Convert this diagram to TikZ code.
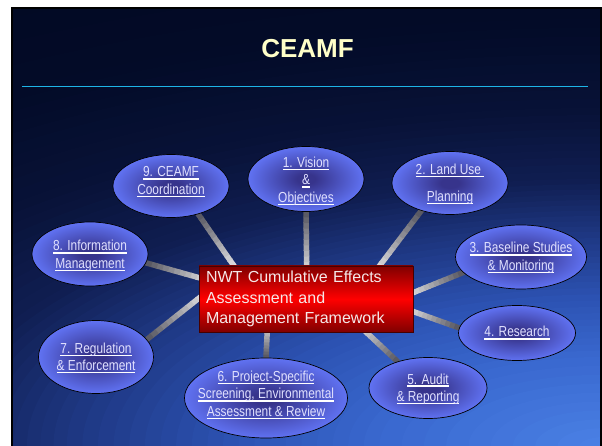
\documentclass[tikz,border=0pt]{standalone}
\usepackage{fontspec}
\setmainfont{Liberation Sans}
\newfontfamily\narrowsans[FakeStretch=0.82]{Liberation Sans}
\usetikzlibrary{shapes.geometric,calc}

% palette
\definecolor{bgA}{RGB}{75,130,230}
\definecolor{bgB}{RGB}{58,105,208}
\definecolor{bgC}{RGB}{44,82,178}
\definecolor{bgD}{RGB}{30,55,130}
\definecolor{bgE}{RGB}{16,30,82}
\definecolor{bgF}{RGB}{8,18,55}
\definecolor{bgG}{RGB}{3,11,40}
\definecolor{bgH}{RGB}{2,9,35}
\definecolor{titlecol}{RGB}{255,255,200}
\definecolor{rulecol}{RGB}{30,180,230}
\definecolor{ellin}{RGB}{55,52,140}
\definecolor{ellout}{RGB}{96,114,242}
\definecolor{bubtext}{RGB}{225,225,255}
\definecolor{boxdark}{RGB}{128,0,0}
\definecolor{boxedge}{RGB}{70,0,0}
\definecolor{boxtext}{RGB}{245,232,232}
\definecolor{spokegray}{RGB}{90,90,100}

% bubble fill: dark core, bright rim
\pgfdeclareradialshading{ellfill}{\pgfpoint{0bp}{0bp}}{%
  color(0bp)=(ellin); color(4bp)=(ellin); color(25bp)=(ellout); color(50bp)=(ellout)}

\pgfdeclarelayer{backdrop}
\pgfdeclarelayer{spokelayer}
\pgfsetlayers{backdrop,spokelayer,main}

\newsavebox\ulbox
\newcommand\ulword[1]{\sbox\ulbox{#1}\rlap{\color{white}\rule[-2.8pt]{\wd\ulbox}{1.4pt}}\usebox\ulbox}

\begin{document}
\begin{tikzpicture}[x=1pt,y=-1pt,
  bubble/.style={ellipse, draw=black, line width=0.7pt, shade, shading=ellfill, inner sep=0pt},
  bubbletext/.style={text=bubtext, font=\narrowsans\fontsize{14.5}{17.5}\selectfont, align=center, inner sep=0pt},
  hubbox/.style={draw=boxedge, line width=0.8pt, top color=boxdark, bottom color=boxdark, middle color=red,
    text=boxtext, font=\fontsize{16}{20.5}\selectfont, align=left, inner xsep=7pt, inner ysep=0pt},
  titletext/.style={text=titlecol, font=\bfseries\fontsize{26}{30}\selectfont, inner sep=0pt},
  ruleline/.style={draw=rulecol, line width=1pt},
  spokeseg/.style={line width=5.5pt, line cap=butt}
]
\useasboundingbox (0,0) rectangle (602,446);

% slide backdrop: glow from the bottom right corner fading into deep navy,
% built from nested ellipses
\begin{pgfonlayer}{backdrop}
  \fill[white] (0,0) rectangle (602,446);
  \coordinate (glow) at (602,446);
  \begin{scope}
    \clip (12,8) rectangle (601,460);
    \fill[bgH] (12,8) rectangle (601,460);
    \foreach \ra/\ca/\rb/\cb in {40.3/bgG/50/bgH, 31.9/bgF/40.3/bgG, 25.2/bgE/31.9/bgF,
        20.2/bgD/25.2/bgE, 14.3/bgC/20.2/bgD, 8.4/bgB/14.3/bgC, 0/bgA/8.4/bgB}{
      \foreach \j in {0,...,9}{
        \pgfmathsetmacro\rr{\rb-(\rb-\ra)*\j/10}
        \pgfmathsetmacro\rxv{\rr*26.5}
        \pgfmathsetmacro\ryv{\rr*10.6}
        \pgfmathtruncatemacro\pc{\j*10}
        \fill[fill=\ca!\pc!\cb] (glow) ellipse [x radius=\rxv pt, y radius=\ryv pt];
      }
    }
  \end{scope}
  \draw[black, line width=2pt] (12,8) rectangle (601,460);
\end{pgfonlayer}

% heading and rule
\node[titletext] (title) at (307.5,48.5) {CEAMF};
\coordinate (ruleL) at (22,87);
\coordinate (ruleR) at (588,87);
\draw[ruleline] (ruleL) -- (ruleR);

% bubbles
\node[bubble, minimum width=116pt, minimum height=65pt] (e1) at (306,179) {};
\node[bubble, minimum width=116pt, minimum height=63pt] (e2) at (450,183) {};
\node[bubble, minimum width=131pt, minimum height=64pt] (e3) at (521,257) {};
\node[bubble, minimum width=117pt, minimum height=55pt] (e4) at (517,333) {};
\node[bubble, minimum width=118pt, minimum height=61pt] (e5) at (428,388) {};
\node[bubble, minimum width=163pt, minimum height=80pt] (e6) at (266,398) {};
\node[bubble, minimum width=115pt, minimum height=73pt] (e7) at (96,357) {};
\node[bubble, minimum width=116pt, minimum height=64pt] (e8) at (90,254) {};
\node[bubble, minimum width=116pt, minimum height=63pt] (e9) at (171,186) {};

% bubble labels
\node[bubbletext] (t1) at (306,181) {\ulword{1. Vision}\\\ulword{\&}\\\ulword{Objectives}};
\node[bubbletext] (t2) at (450,184) {\ulword{2. Land Use\ }\\[9.5pt]\ulword{Planning}};
\node[bubbletext] (t3) at (521,258) {\ulword{3. Baseline Studies}\\\ulword{\& Monitoring}};
\node[bubbletext] (t4) at (517,333) {\ulword{4. Research}};
\node[bubbletext] (t5) at (428,389) {\ulword{5. Audit}\\\ulword{\& Reporting}};
\node[bubbletext] (t6) at (266,395) {\ulword{6. Project-Specific}\\\ulword{Screening, Environmental}\\\ulword{Assessment \& Review}};
\node[bubbletext] (t7) at (96,358) {\ulword{7. Regulation}\\\ulword{\& Enforcement}};
\node[bubbletext] (t8) at (90,256) {\ulword{8. Information}\\\ulword{Management}};
\node[bubbletext] (t9) at (171,182) {\ulword{9. CEAMF}\\\ulword{Coordination}};

% central framework box
\node[hubbox, minimum width=214pt, minimum height=66pt, text width=200pt] (box) at (306,299)
  {NWT Cumulative Effects\\Assessment and\\Management Framework};

% spoke roots, hidden under the box
\coordinate (h1) at (307,290);
\coordinate (h2) at (365,285);
\coordinate (h3) at (395,300);
\coordinate (h4) at (395,305);
\coordinate (h5) at (350,317);
\coordinate (h6) at (268,315);
\coordinate (h7) at (218,283);
\coordinate (h8) at (225,285);
\coordinate (h9) at (243,279);

% spokes: pale near the box, darkening towards each bubble
\begin{pgfonlayer}{spokelayer}
\foreach \h/\e in {h1/e1.south, h2/e2.224, h3/e3.195, h4/e4.175, h5/e5.139,
                   h6/e6.north, h7/e7.19, h8/e8.351, h9/e9.314}{
  \foreach \i in {0,...,13}{
    \pgfmathsetmacro\ta{\i/14}
    \pgfmathsetmacro\tb{(\i+1)/14+0.012}
    \pgfmathtruncatemacro\mix{100-\i*100/13}
    \draw[spokeseg, draw=white!\mix!spokegray] ($(\h)!\ta!(\e)$) -- ($(\h)!\tb!(\e)$);
  }
}
\end{pgfonlayer}
\end{tikzpicture}
\end{document}
